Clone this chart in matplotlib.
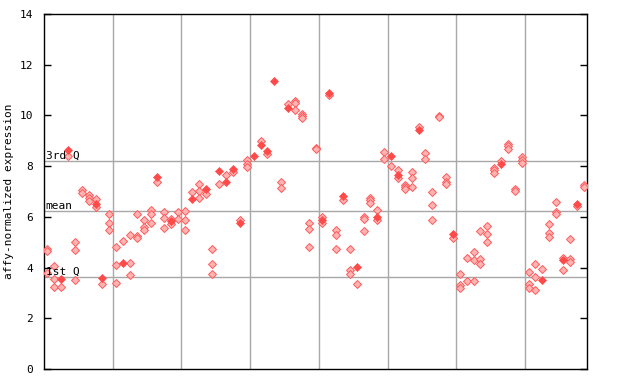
import numpy as np
import matplotlib
matplotlib.use("Agg")
import matplotlib.pyplot as plt

#### data: one list per sample (column), open = checkered marker, filled = solid marker
open_vals = [
    [4.72, 4.66, 3.78], [4.05, 3.53, 3.22], [3.22], [8.41], [5.0, 4.7, 3.5],
    [7.04, 6.96], [6.86, 6.75, 6.63], [6.7, 6.39], [3.34], [6.1, 5.74, 5.5],
    [4.83, 4.1, 3.38], [5.05], [5.28, 4.18, 3.69], [6.13, 5.24, 5.16], [5.87, 5.6, 5.5],
    [6.29, 6.13, 5.74], [7.38], [6.2, 5.97, 5.57], [5.93, 5.71], [6.2, 5.9],
    [6.22, 5.86, 5.47], [6.97], [7.28, 7.01, 6.74], [6.92], [4.75, 4.16, 3.73],
    [7.31], [7.67], [7.76], [5.87], [8.23, 8.08, 7.97],
    [], [8.98], [8.46], [], [7.39, 7.12],
    [10.47], [10.55, 10.5, 10.23], [10.07, 9.98, 9.88], [5.74, 5.54, 4.83], [8.72, 8.66],
    [6.0, 5.74], [10.82], [5.5, 5.27, 4.75], [6.68], [4.75, 3.9, 3.73],
    [3.34], [6.0, 5.92, 5.46], [6.76, 6.66, 6.55], [6.26, 5.87], [8.56, 8.3],
    [8.0], [7.86, 7.54], [7.26, 7.18, 7.09], [7.75, 7.55, 7.16], [9.53],
    [8.51, 8.29], [7.0, 6.45, 5.86], [9.98, 9.92], [7.59, 7.38, 7.29], [5.16],
    [3.73, 3.31, 3.2], [4.36, 3.49], [4.6, 4.28, 3.49], [5.46, 4.32, 4.16], [5.62, 5.31, 4.99],
    [7.93, 7.84, 7.71], [8.22], [8.89, 8.79, 8.66], [7.08, 7.01], [8.37, 8.23, 8.14],
    [3.81, 3.35, 3.2], [4.14, 3.61, 3.1], [3.93], [5.7, 5.35, 5.21], [6.58, 6.2, 6.13],
    [4.36, 3.89], [5.11, 4.32, 4.22], [6.42], [7.25, 7.16],
]
filled_vals = [
    [], [], [3.56], [8.65], [],
    [], [], [6.5], [3.57], [],
    [], [4.2], [], [], [],
    [], [7.58], [], [5.83], [],
    [], [6.71], [], [7.08], [],
    [7.81], [7.38], [7.89], [5.74], [],
    [8.41], [8.84], [8.6], [11.36], [],
    [10.3], [], [], [], [],
    [5.87], [10.9], [], [6.82], [],
    [4.03], [], [], [5.98], [],
    [8.4], [7.64], [], [], [9.44],
    [], [], [], [], [5.33],
    [], [], [], [], [],
    [], [8.1], [], [], [],
    [], [], [3.51], [], [],
    [4.29], [], [6.51], [],
]
q3 = 8.22
mean_val = 6.23
q1 = 3.62
group_edges = [10, 20, 30, 40, 50, 60, 70]
####

n = len(open_vals)
ox = [i + 0.5 for i in range(n) for v in open_vals[i]]
oy = [v for i in range(n) for v in open_vals[i]]
fx = [i + 0.5 for i in range(n) for v in filled_vals[i]]
fy = [v for i in range(n) for v in filled_vals[i]]

plt.rcParams['font.family'] = 'DejaVu Sans Mono'

fig = plt.figure(figsize=(6.4, 3.84), dpi=100)
ax = fig.add_axes([44/640, 15/384, 543/640, 355/384])

for e in group_edges:
    ax.axvline(e, color='#a8a8a8', lw=1, zorder=1)
for q in (q3, mean_val, q1):
    ax.axhline(q, color='#a8a8a8', lw=1, zorder=1)

ax.plot(ox, oy, 'D', ms=3.6, mfc='#ffb4b4', mec='#ff5a5a', mew=0.7, ls='none', zorder=3)
ax.plot(fx, fy, 'D', ms=4.0, mfc='#ff4a4a', mec='#ff4a4a', mew=0.5, ls='none', zorder=4)

ax.text(0.003, q3, '3rd Q', transform=ax.get_yaxis_transform(), fontsize=8, va='bottom', ha='left')
ax.text(0.003, mean_val, 'mean', transform=ax.get_yaxis_transform(), fontsize=8, va='bottom', ha='left')
ax.text(0.003, q1, '1st Q', transform=ax.get_yaxis_transform(), fontsize=8, va='bottom', ha='left')

ax.set_xlim(0, n)
ax.set_ylim(0, 14)
ax.set_yticks(np.arange(0, 15, 2))
ax.set_xticks([])
ax.tick_params(axis='y', direction='in', length=5, width=1, labelsize=8, pad=8, right=True)
ax.set_ylabel('affy-normalized expression', fontsize=8, labelpad=4)
for s in ax.spines.values():
    s.set_linewidth(1)

plt.savefig('out.png', dpi=100)
